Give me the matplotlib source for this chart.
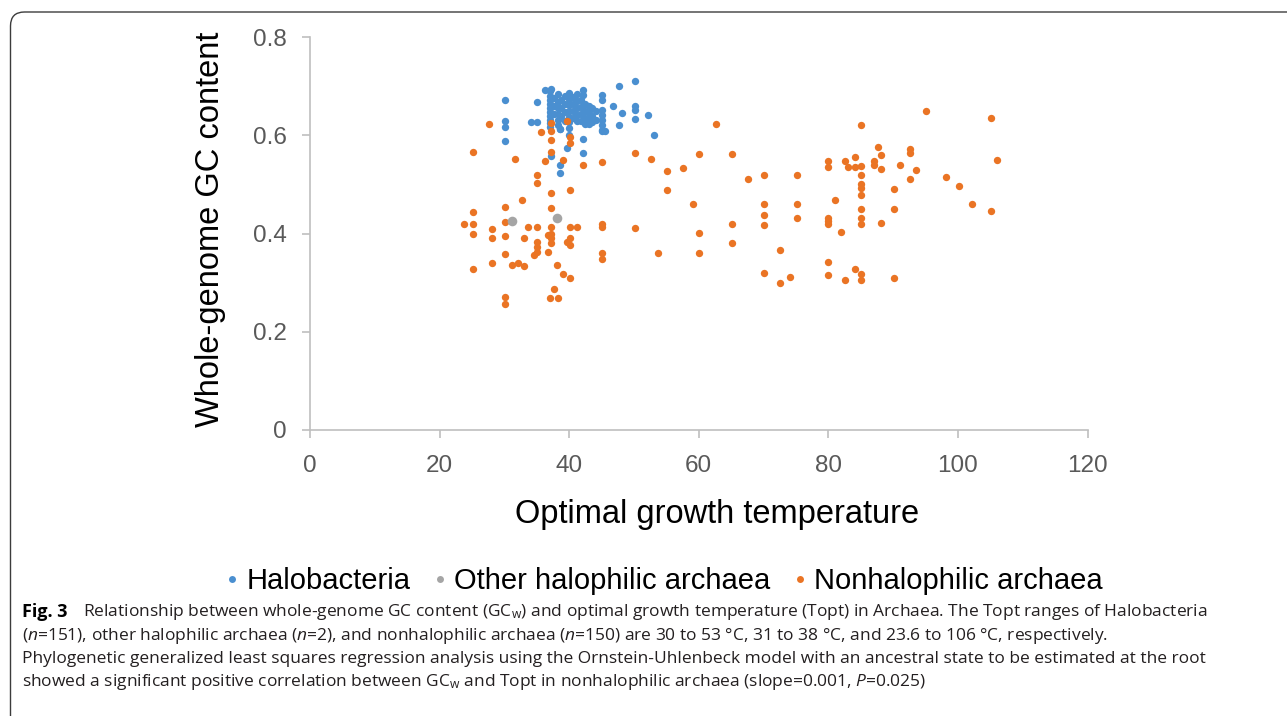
import matplotlib
matplotlib.use("Agg")
import matplotlib.pyplot as plt
from matplotlib.patches import FancyBboxPatch
from matplotlib.lines import Line2D
from matplotlib.transforms import IdentityTransform

plt.rcParams['mathtext.fontset'] = 'custom'
plt.rcParams['mathtext.rm'] = 'Open Sans'
plt.rcParams['mathtext.it'] = 'Open Sans:italic'
plt.rcParams['mathtext.bf'] = 'Open Sans:bold'

# Halobacteria (Topt, GC content)
halo_x = [30.1, 30.1, 30.1, 30.1, 35.1, 34.1, 35.1, 36.2, 37.2, 42.1, 42.1,
          45.1, 45.1, 45.1, 45.1, 45.1, 45.1, 45.1, 45.6, 45.1,
          46.7, 48.1, 47.7, 50.2, 50.2, 50.2, 50.2, 52.1, 47.7, 53.1,
          42.1, 42.1, 38.6, 39.6, 38.6, 38.6, 37.2, 38.6,
          37.0, 37.0, 37.0, 37.0, 37.0, 37.0, 37.0, 37.0, 37.0, 37.0,
          37.6, 37.6, 37.6,
          38.2, 38.2, 38.2, 38.2, 38.2, 38.2,
          38.8, 38.8, 38.8,
          39.4, 39.4, 39.4, 39.4,
          40.0, 40.0, 40.0, 40.0, 40.0, 40.0, 40.0, 40.0,
          40.6, 40.6, 40.6, 40.6,
          41.2, 41.2, 41.2, 41.2, 41.2,
          41.8, 41.8, 41.8, 41.8,
          42.4, 42.4, 42.4, 42.4,
          43.0, 43.0, 43.0, 43.0,
          43.6, 43.6, 43.6,
          44.2, 44.2]
halo_y = [0.671, 0.630, 0.616, 0.589, 0.667, 0.627, 0.627, 0.692, 0.694, 0.692, 0.682,
          0.682, 0.672, 0.652, 0.642, 0.631, 0.621, 0.611, 0.609, 0.608,
          0.660, 0.646, 0.701, 0.711, 0.660, 0.652, 0.633, 0.641, 0.620, 0.601,
          0.593, 0.563, 0.612, 0.574, 0.540, 0.524, 0.557, 0.612,
          0.690, 0.680, 0.672, 0.664, 0.656, 0.648, 0.640, 0.632, 0.624, 0.616,
          0.676, 0.660, 0.644,
          0.684, 0.668, 0.656, 0.644, 0.632, 0.620,
          0.672, 0.656, 0.640,
          0.680, 0.664, 0.648, 0.630,
          0.686, 0.674, 0.662, 0.650, 0.638, 0.626, 0.614, 0.600,
          0.678, 0.664, 0.650, 0.636,
          0.684, 0.670, 0.656, 0.642, 0.628,
          0.672, 0.658, 0.644, 0.630,
          0.664, 0.650, 0.636, 0.622,
          0.660, 0.646, 0.634, 0.622,
          0.656, 0.640, 0.626,
          0.650, 0.632]

# other halophilic archaea
other_x = [31.1, 38.1]
other_y = [0.426, 0.431]

# nonhalophilic archaea
nonhalo_x = [23.8, 25.1, 25.1, 25.1, 25.1, 25.1, 27.6, 28.1, 28.1, 28.1,
             30.1, 30.1, 30.1, 30.1, 30.1, 30.1,
             31.1, 31.6, 32.1, 32.7, 33.1, 33.1, 33.6,
             34.6, 35.1, 35.1, 35.1, 35.1, 35.1, 35.1, 35.6, 36.2, 36.7, 36.7,
             37.2, 37.2, 37.2, 37.2, 37.2, 37.2, 37.2, 37.2, 37.2, 37.2,
             37.1, 37.7, 38.2, 38.1, 39.1, 40.1,
             39.1, 39.6, 40.1, 40.1, 40.1, 40.1, 41.2, 40.1, 39.6, 40.1,
             42.1, 45.1, 45.1, 45.1, 45.1, 45.1,
             50.2, 50.2, 52.6, 53.7,
             55.1, 55.1, 57.6, 59.1, 60.1, 60.1, 60.1, 62.6,
             65.1, 65.1, 65.1, 67.6,
             70.1, 70.1, 70.1, 70.1, 70.1, 72.6, 72.6, 74.1,
             75.1, 75.1, 75.1,
             80.0, 80.0, 80.0, 80.0, 80.0, 80.0, 80.0,
             81.1, 82.0, 82.6, 82.6, 83.1, 84.1, 84.1, 84.1,
             85.1, 85.1, 85.1, 85.1, 85.1, 85.1, 85.1, 85.1, 85.1, 85.1, 85.1,
             87.1, 87.1, 87.6, 88.1, 88.1, 88.1,
             90.1, 90.1, 90.1, 91.1, 92.6, 92.6, 92.6, 93.6,
             95.1, 98.1, 100.1, 102.1, 105.1, 105.1, 106.1]
nonhalo_y = [0.419, 0.419, 0.444, 0.400, 0.565, 0.327, 0.623, 0.409, 0.390, 0.339,
             0.454, 0.424, 0.394, 0.358, 0.270, 0.257,
             0.336, 0.552, 0.339, 0.468, 0.390, 0.333, 0.414,
             0.356, 0.519, 0.502, 0.414, 0.383, 0.373, 0.363, 0.606, 0.547, 0.397, 0.363,
             0.625, 0.609, 0.590, 0.566, 0.483, 0.451, 0.414, 0.400, 0.390, 0.380,
             0.268, 0.287, 0.268, 0.336, 0.318, 0.310,
             0.550, 0.629, 0.597, 0.585, 0.489, 0.414, 0.414, 0.390, 0.383, 0.377,
             0.540, 0.546, 0.420, 0.413, 0.360, 0.348,
             0.563, 0.411, 0.552, 0.360,
             0.527, 0.489, 0.534, 0.460, 0.561, 0.401, 0.360, 0.622,
             0.561, 0.420, 0.380, 0.511,
             0.520, 0.460, 0.437, 0.418, 0.319, 0.367, 0.300, 0.311,
             0.520, 0.460, 0.432,
             0.548, 0.536, 0.432, 0.426, 0.420, 0.342, 0.316,
             0.468, 0.403, 0.548, 0.306, 0.536, 0.556, 0.536, 0.327,
             0.620, 0.538, 0.520, 0.500, 0.492, 0.479, 0.450, 0.432, 0.420, 0.318, 0.306,
             0.548, 0.540, 0.577, 0.559, 0.532, 0.421,
             0.490, 0.450, 0.310, 0.539, 0.572, 0.563, 0.511, 0.530,
             0.650, 0.516, 0.496, 0.460, 0.635, 0.446, 0.549]

x_ticks = [0, 20, 40, 60, 80, 100, 120]
y_ticks = [0, 0.2, 0.4, 0.6, 0.8]
y_tick_labels = ['0', '0.2', '0.4', '0.6', '0.8']

series_names = ['Halobacteria', 'Other halophilic archaea', 'Nonhalophilic archaea']
colors = ['#4a8fd0', '#a5a5a5', '#ea7424']

caption_lines = [
    'Relationship between whole-genome GC content (GC$_\\mathrm{w}$) and optimal growth temperature (Topt) in Archaea. The Topt ranges of Halobacteria',
    '($n$=151), other halophilic archaea ($n$=2), and nonhalophilic archaea ($n$=150) are 30 to 53 °C, 31 to 38 °C, and 23.6 to 106 °C, respectively.',
    'Phylogenetic generalized least squares regression analysis using the Ornstein-Uhlenbeck model with an ancestral state to be estimated at the root',
    'showed a significant positive correlation between GC$_\\mathrm{w}$ and Topt in nonhalophilic archaea (slope=0.001, $P$=0.025)',
]

W, H = 1287, 716
fig = plt.figure(figsize=(W / 100, H / 100), dpi=100)
ax = fig.add_axes([310 / W, 1 - 430 / H, 777.5 / W, 393 / H])

ax.scatter(halo_x, halo_y, s=28, color=colors[0], linewidths=0, zorder=3)
ax.scatter(nonhalo_x, nonhalo_y, s=28, color=colors[2], linewidths=0, zorder=4)
ax.scatter(other_x, other_y, s=48, color=colors[1], linewidths=0, zorder=5)

ax.set_xlim(0, 120)
ax.set_ylim(0, 0.8)
ax.set_xticks(x_ticks)
ax.set_xticklabels([str(t) for t in x_ticks])
ax.set_yticks(y_ticks)
ax.set_yticklabels(y_tick_labels)
for s in ['top', 'right']:
    ax.spines[s].set_visible(False)
for s in ['left', 'bottom']:
    ax.spines[s].set_color('#bfbfbf')
    ax.spines[s].set_linewidth(1.2)
ax.tick_params(axis='both', direction='out', length=6, width=1.2, color='#bfbfbf',
               labelcolor='#595959', labelsize=17.5)
ax.tick_params(axis='y', pad=11)
ax.tick_params(axis='x', pad=12)
for lab in ax.get_xticklabels() + ax.get_yticklabels():
    lab.set_family('Liberation Sans')

fig.text(211 / W, 1 - 229 / H, 'Whole-genome GC content', rotation=90,
         ha='center', va='center', fontsize=23.5, family='Liberation Sans')
fig.text(717 / W, 1 - 515 / H, 'Optimal growth temperature',
         ha='center', va='center', fontsize=23.5, family='Liberation Sans')

handles = [Line2D([], [], marker='o', linestyle='none', markersize=5,
                  markerfacecolor=c, markeredgewidth=0) for c in colors]
fig.legend(handles, series_names, loc='center', bbox_to_anchor=(660 / W, 1 - 581 / H),
           ncol=3, frameon=False, handletextpad=0.0, columnspacing=0.5,
           handlelength=1.0, prop={'family': 'Liberation Sans', 'size': 21})

# caption
fig.text(22 / W, 1 - 612 / H, 'Fig. 3', ha='left', va='center', fontsize=13,
         fontweight='bold', family='Open Sans')
line_y = [612, 636, 659, 682]
line_x = [83, 22, 22, 22]
line_end = [1283, 1105, 1279, 1000]
texts = []
for txt, x, y in zip(caption_lines, line_x, line_y):
    texts.append(fig.text(x / W, 1 - y / H, txt, ha='left', va='center',
                          fontsize=12, family='Open Sans', color='#231f20'))
fig.canvas.draw()
r = fig.canvas.get_renderer()
scale = min((e - x) / t.get_window_extent(r).width
            for t, x, e in zip(texts, line_x, line_end))
for t in texts:
    t.set_fontsize(12 * scale)

border = FancyBboxPatch((10.5, -40), 1400, H - 12 + 40, boxstyle='round,pad=0,rounding_size=14',
                        transform=IdentityTransform(), facecolor='none',
                        edgecolor='#3c3c3c', linewidth=1.0)
fig.patches.append(border)

fig.savefig('out.png', dpi=100)
